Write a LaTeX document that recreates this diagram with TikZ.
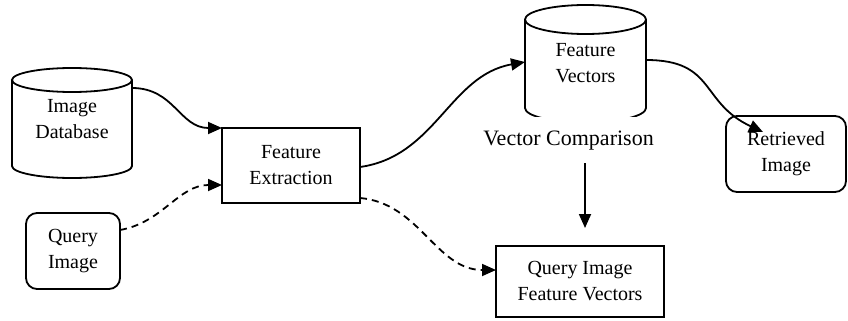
\documentclass[tikz,border=0pt]{standalone}
\usepackage{fontspec}
\setmainfont{Liberation Serif}
\usetikzlibrary{arrows.meta}
\begin{document}
\begin{tikzpicture}[x=1pt,y=-1pt,line width=1.8pt,
  lbl/.style={font=\fontsize{20}{26}\selectfont, align=center, inner sep=0pt},
  frame/.style={minimum width=#1, inner sep=0pt, outer sep=0pt},
  boxnode/.style={draw, lbl, outer sep=0pt},
  roundbox/.style={boxnode, rounded corners=11pt},
  conn/.style={-{Triangle[length=14pt,width=12pt]}},
  dashconn/.style={conn, dash pattern=on 7pt off 5pt},
]
\useasboundingbox (0,0) rectangle (848,321);

% Image Database cylinder
\node[frame=120pt, minimum height=110pt] (db) at (72,123) {};
\draw ([yshift=-12pt]db.north west) -- ([yshift=12pt]db.south west)
  arc[start angle=180, end angle=360, x radius=60pt, y radius=12pt]
  -- ([yshift=-12pt]db.north east)
  arc[start angle=0, end angle=360, x radius=60pt, y radius=12pt];
\node[lbl] (dbtext) at (72,119) {Image\\Database};

% Feature Vectors cylinder (bottom hidden)
\node[frame=121pt, minimum height=117.5pt] (fv) at (585.5,63.75) {};
\begin{scope}
\clip (0,0) rectangle (848,116);
\draw ([yshift=-14.5pt]fv.north west) -- ([yshift=14.5pt]fv.south west)
  arc[start angle=180, end angle=360, x radius=60.5pt, y radius=14.5pt]
  -- ([yshift=-14.5pt]fv.north east)
  arc[start angle=0, end angle=360, x radius=60.5pt, y radius=14.5pt];
\end{scope}
\node[lbl] (fvtext) at (585.5,63) {Feature\\Vectors};

% boxes
\node[boxnode, minimum width=138pt, minimum height=75pt] (fe) at (291,165.5) {Feature\\Extraction};
\node[roundbox, minimum width=94pt, minimum height=76pt] (qi) at (73,251) {Query\\Image};
\node[roundbox, minimum width=120pt, minimum height=76pt] (ri) at (786,154) {Retrieved\\Image};
\node[boxnode, minimum width=168pt, minimum height=71pt] (qifv) at (580,281.5) {Query Image\\Feature Vectors};

\node[lbl, font=\fontsize{22}{26}\selectfont] (vc) at (568.5,141) {Vector Comparison};

% connectors
\draw[conn] ([yshift=35pt]db.east) to[out=0, in=180, looseness=1.1] (fe.north west);
\draw[dashconn] ([yshift=21pt]qi.east) to[out=10, in=180] ([yshift=-19.5pt]fe.west);
\draw[conn] ([yshift=-1.5pt]fe.east) to[out=8, in=190] ([yshift=1.75pt]fv.west);
\draw[dashconn] ([yshift=-32.5pt]fe.east) to[out=-5, in=180] ([yshift=11.5pt]qifv.west);
\draw[conn] ([yshift=3.75pt]fv.east) to[out=0, in=155, looseness=1.3] ([xshift=37pt,yshift=-16pt]ri.north west);
\coordinate (cmpA) at (585,163);
\coordinate (cmpB) at (585,228);
\draw[conn] (cmpA) -- (cmpB);
\end{tikzpicture}
\end{document}
